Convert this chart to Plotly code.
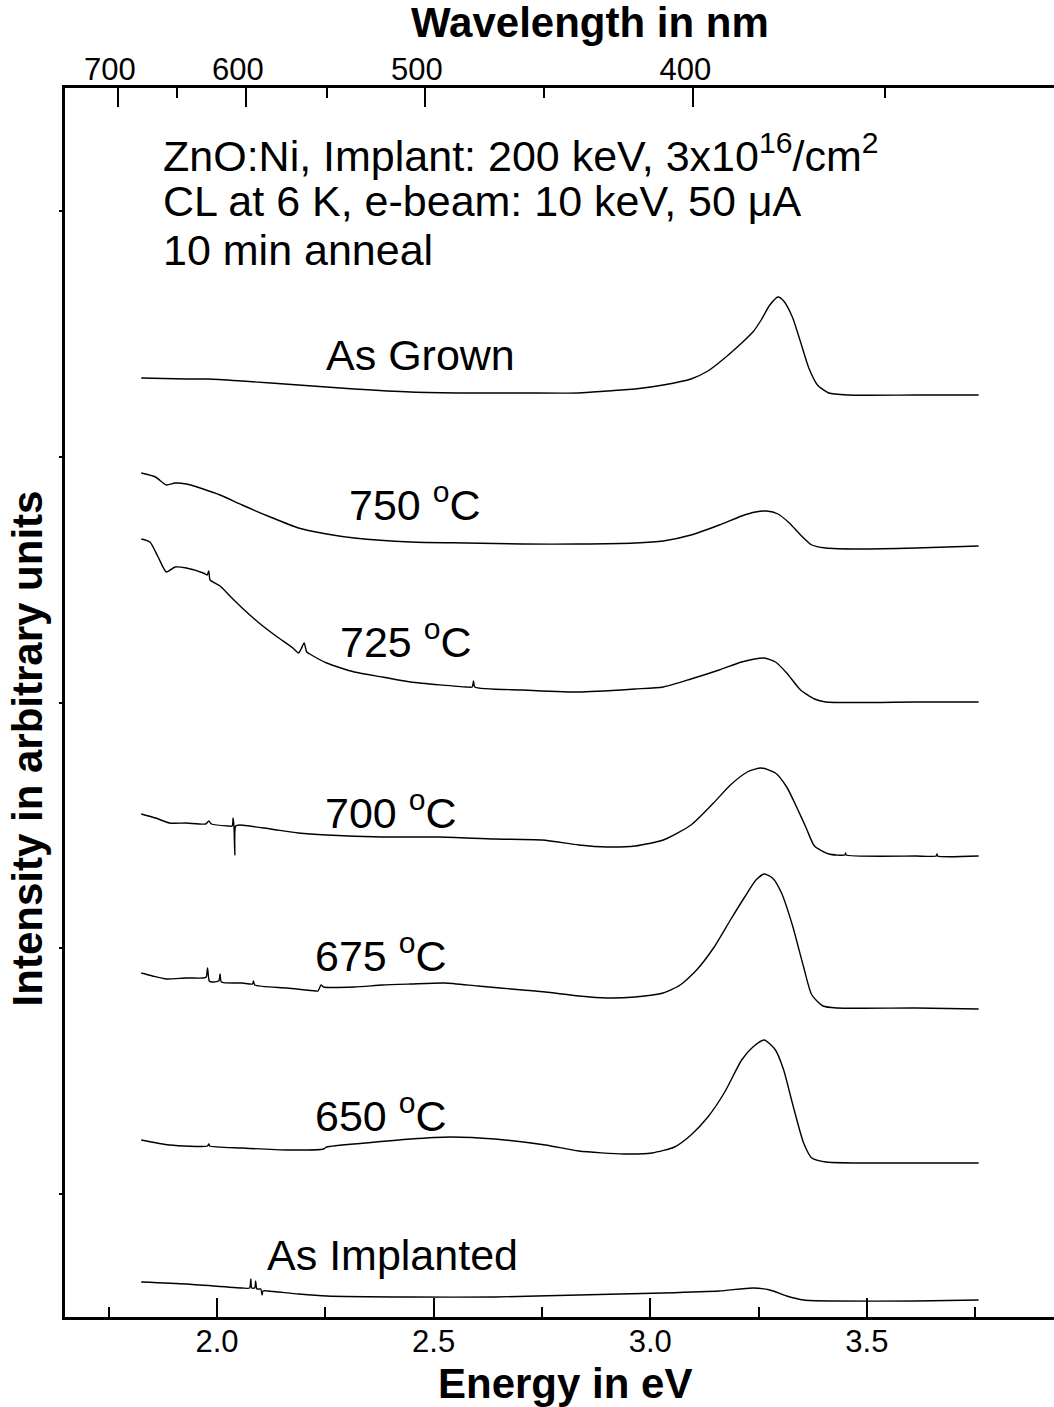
import plotly.graph_objects as go

# ---- spectra: photon energy (eV) vs stacked intensity (arbitrary units) ----
as_grown_e = [1.825, 1.929, 1.981, 2.058, 2.188, 2.317, 2.447, 2.576, 2.706, 2.835, 2.900, 2.965, 3.030, 3.094,
              3.133, 3.172, 3.211, 3.237, 3.256, 3.276, 3.295, 3.308, 3.328, 3.347, 3.366, 3.386, 3.412, 3.457,
              3.613, 3.758]
as_grown_i = [939, 938, 938, 936, 932, 928, 925, 924, 924, 924, 926, 928, 932, 938,
              946, 959, 974, 985, 997, 1012, 1020, 1016, 1000, 975, 949, 932, 924, 922,
              922, 922]

t750_e = [1.825, 1.858, 1.883, 1.903, 1.929, 1.968, 2.007, 2.058, 2.123, 2.188, 2.253, 2.317, 2.447, 2.576,
          2.706, 2.835, 2.965, 3.030, 3.094, 3.159, 3.211, 3.243, 3.269, 3.295, 3.321, 3.347, 3.373, 3.405,
          3.483, 3.613, 3.758]
t750_i = [844, 840, 832, 834, 833, 828, 822, 812, 800, 789, 783, 779, 775, 774,
          773, 773, 774, 776, 782, 792, 801, 805, 806, 803, 794, 782, 772, 769,
          768, 769, 771]

t725_e = [1.825, 1.845, 1.864, 1.883, 1.903, 1.929, 1.968, 1.977, 1.981, 1.984, 2.007, 2.032, 2.058, 2.097,
          2.136, 2.175, 2.188, 2.194, 2.201, 2.207, 2.214, 2.253, 2.317, 2.382, 2.447, 2.576, 2.589, 2.592,
          2.595, 2.706, 2.835, 2.965, 3.030, 3.094, 3.159, 3.211, 3.263, 3.289, 3.315, 3.347, 3.379, 3.405,
          3.613, 3.758]
t725_i = [778, 775, 760, 745, 750, 749, 744, 742, 746, 737, 731, 720, 709, 694,
          681, 669, 664, 668, 674, 665, 663, 654, 645, 640, 635, 630, 630, 636,
          630, 627, 625, 628, 630, 638, 647, 655, 659, 655, 644, 627, 618, 615,
          615, 615]

t700_e = [1.825, 1.858, 1.890, 1.929, 1.974, 1.981, 1.987, 2.026, 2.035, 2.037, 2.039, 2.041, 2.043, 2.052,
          2.123, 2.188, 2.253, 2.382, 2.512, 2.641, 2.751, 2.835, 2.900, 2.965, 3.030, 3.094, 3.146, 3.185,
          3.224, 3.256, 3.289, 3.315, 3.341, 3.360, 3.379, 3.412, 3.449, 3.451, 3.452, 3.613, 3.660, 3.662,
          3.663, 3.758]
t700_i = [503, 499, 494, 494, 493, 496, 493, 491, 491, 499, 491, 462, 491, 492,
          488, 484, 482, 480, 480, 478, 477, 472, 470, 471, 477, 492, 514, 532,
          545, 549, 544, 530, 507, 489, 471, 463, 462, 464, 462, 461, 461, 463,
          461, 461]

t675_e = [1.825, 1.851, 1.883, 1.929, 1.968, 1.975, 1.978, 1.982, 1.987, 2.004, 2.007, 2.010, 2.058, 2.082,
          2.084, 2.087, 2.162, 2.227, 2.233, 2.240, 2.246, 2.317, 2.382, 2.447, 2.525, 2.602, 2.706, 2.758,
          2.835, 2.900, 2.965, 3.030, 3.069, 3.107, 3.146, 3.185, 3.218, 3.244, 3.263, 3.282, 3.302, 3.328,
          3.354, 3.373, 3.399, 3.431, 3.613, 3.758]
t675_i = [344, 341, 338, 339, 339, 340, 349, 336, 335, 336, 343, 335, 334, 333,
          336, 332, 329, 326, 326, 332, 330, 330, 332, 333, 334, 331, 327, 325,
          321, 319, 320, 324, 332, 347, 369, 397, 420, 437, 443, 439, 425, 392,
          350, 322, 311, 309, 309, 308]

t650_e = [1.825, 1.890, 1.978, 1.981, 1.983, 2.058, 2.162, 2.246, 2.253, 2.343, 2.447, 2.538, 2.641, 2.758,
          2.835, 2.939, 3.004, 3.056, 3.094, 3.133, 3.172, 3.211, 3.237, 3.263, 3.289, 3.308, 3.328, 3.354,
          3.373, 3.405, 3.613, 3.758]
t650_i = [177, 172, 171, 173, 171, 169, 167, 168, 170, 174, 178, 180, 178, 172,
          166, 163, 164, 170, 182, 200, 225, 257, 270, 277, 267, 247, 214, 174,
          159, 155, 154, 154]

as_impl_e = [1.825, 1.929, 2.058, 2.075, 2.078, 2.080, 2.087, 2.089, 2.092, 2.101, 2.104, 2.106, 2.117, 2.188,
             2.253, 2.447, 2.641, 2.835, 3.030, 3.159, 3.237, 3.276, 3.315, 3.354, 3.418, 3.613, 3.758]
as_impl_i = [35, 33, 29, 29, 38, 29, 29, 36, 28, 28, 22, 26, 26, 23,
             21, 20, 20, 22, 24, 26, 29, 27, 21, 17, 16, 16, 17]

# ---- curve labels: (text, energy of left edge, intensity level) ----
label_text = ["As Grown", "750 <sup>o</sup>C", "725 <sup>o</sup>C", "700 <sup>o</sup>C",
              "675 <sup>o</sup>C", "650 <sup>o</sup>C", "As Implanted"]
label_e = [2.247, 2.299, 2.279, 2.244, 2.222, 2.222, 2.111]
label_i = [962, 815, 678, 507, 364, 204, 62]

header_lines = ["ZnO:Ni, Implant: 200 keV, 3x10<sup>16</sup>/cm<sup>2</sup>",
                "CL at 6 K, e-beam: 10 keV, 50 \u03bcA",
                "10 min anneal"]
header_i = [1164, 1116, 1067]
header_e = 1.870

# ---- axes ----
energy_range = [1.649, 3.932]
intensity_range = [0, 1229]
intensity_ticks = [123, 369, 614, 860, 1106]
energy_major = [2.0, 2.5, 3.0, 3.5]
wl_major = [700, 600, 500, 400]
wl_minor = [650, 550, 450, 350]
HC = 1239.84  # eV*nm

FONT = "Liberation Sans, Arial, sans-serif"
LABEL_SIZE = 43
TITLE_SIZE = 42
TICK_SIZE = 31

spectra = [
    (as_grown_e, as_grown_i, "As Grown"),
    (t750_e, t750_i, "750 C"),
    (t725_e, t725_i, "725 C"),
    (t700_e, t700_i, "700 C"),
    (t675_e, t675_i, "675 C"),
    (t650_e, t650_i, "650 C"),
    (as_impl_e, as_impl_i, "As Implanted"),
]

fig = go.Figure()
for e, i, name in spectra:
    fig.add_trace(go.Scatter(x=e, y=i, mode="lines", name=name,
                             line=dict(color="black", width=1.4, shape="spline", smoothing=0.6),
                             showlegend=False))

# invisible trace that carries the wavelength axis on top
fig.add_trace(go.Scatter(x=[as_grown_e[0], as_grown_e[-1]], y=[as_grown_i[0], as_grown_i[-1]],
                         xaxis="x2", mode="markers", marker=dict(opacity=0),
                         showlegend=False, hoverinfo="skip"))

annotations = []
for txt, e, i in zip(label_text, label_e, label_i):
    annotations.append(dict(x=e, y=i, xref="x", yref="y", text=txt, showarrow=False,
                            xanchor="left", yanchor="middle",
                            font=dict(family=FONT, size=LABEL_SIZE, color="black")))
for txt, i in zip(header_lines, header_i):
    annotations.append(dict(x=header_e, y=i, xref="x", yref="y", text=txt, showarrow=False,
                            xanchor="left", yanchor="middle",
                            font=dict(family=FONT, size=LABEL_SIZE, color="black")))

# axis titles
annotations.append(dict(x=0.506, y=-0.0545, xref="paper", yref="paper", text="<b>Energy in eV</b>",
                        showarrow=False, xanchor="center", yanchor="middle",
                        font=dict(family=FONT, size=TITLE_SIZE, color="black")))
annotations.append(dict(x=0.531, y=1.053, xref="paper", yref="paper", text="<b>Wavelength in nm</b>",
                        showarrow=False, xanchor="center", yanchor="middle",
                        font=dict(family=FONT, size=TITLE_SIZE, color="black")))
annotations.append(dict(x=-0.037, y=0.463, xref="paper", yref="paper",
                        text="<b>Intensity in arbitrary units</b>", textangle=-90,
                        showarrow=False, xanchor="center", yanchor="middle",
                        font=dict(family=FONT, size=TITLE_SIZE, color="black")))

fig.update_layout(
    width=1054, height=1407,
    margin=dict(l=65, r=0, t=88, b=90),
    paper_bgcolor="white", plot_bgcolor="white",
    font=dict(family=FONT, color="black"),
    annotations=annotations,
    xaxis=dict(range=energy_range, showline=True, linewidth=3, linecolor="black",
               showgrid=False, zeroline=False,
               tickmode="array", tickvals=energy_major,
               ticktext=[f"{v:.1f}" for v in energy_major],
               ticks="inside", ticklen=19, tickwidth=2, tickcolor="black",
               ticklabelstandoff=-5,
               tickfont=dict(family=FONT, size=TICK_SIZE, color="black"),
               minor=dict(tickmode="linear", tick0=1.75, dtick=0.25, ticks="inside",
                          ticklen=10, tickwidth=2, tickcolor="black"),
               fixedrange=True),
    xaxis2=dict(range=energy_range, overlaying="x", side="top", anchor="y",
                showline=True, linewidth=3, linecolor="black",
                showgrid=False, zeroline=False,
                tickmode="array", tickvals=[HC / w for w in wl_major],
                ticktext=[str(w) for w in wl_major],
                ticks="inside", ticklen=19, tickwidth=2, tickcolor="black",
                ticklabelstandoff=-7, ticklabelshift=-8,
                tickfont=dict(family=FONT, size=TICK_SIZE, color="black"),
                minor=dict(tickmode="array", tickvals=[HC / w for w in wl_minor],
                           ticks="inside", ticklen=10, tickwidth=2, tickcolor="black"),
                fixedrange=True),
    yaxis=dict(range=intensity_range, showline=True, linewidth=3, linecolor="black",
               showgrid=False, zeroline=False, tickmode="array", tickvals=intensity_ticks,
               showticklabels=False, ticks="outside", ticklen=3, tickwidth=2, tickcolor="black",
               fixedrange=True),
)

fig.write_html("out.html")
